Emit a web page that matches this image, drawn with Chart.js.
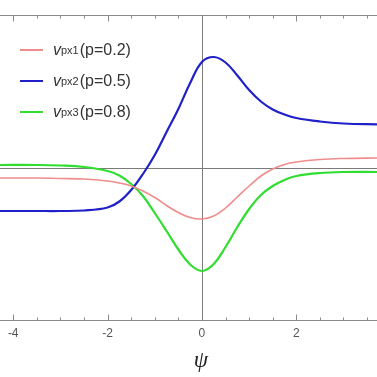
<!DOCTYPE html>
<html>
<head>
<meta charset="utf-8">
<script src="https://cdn.jsdelivr.net/npm/chart.js@4/dist/chart.umd.min.js"></script>
<style>
html, body { margin: 0; padding: 0; background: #fff; }
#wrap { position: relative; width: 377px; height: 377px; }
#legend { position: absolute; left: 20px; top: 34px; font-family: "Liberation Sans", Arial, sans-serif; font-size: 16px; color: #333; }
.item { height: 31px; display: flex; align-items: center; white-space: nowrap; }
.sw { width: 23px; height: 2px; margin-right: 10px; }
.item i { font-size: 16px; }
.item sub { font-size: 11px; vertical-align: -3px; margin-right: 1px; }
#xlabel { position: absolute; left: 190px; top: 347px; width: 22px; text-align: center; font-family: "Liberation Serif", "DejaVu Serif", serif; font-style: italic; font-size: 23px; color: #222; }
</style>
</head>
<body>
<div id="wrap">
  <canvas id="line-chart" width="377" height="377"></canvas>
  <div id="legend"></div>
  <div id="xlabel">ψ</div>
</div>
<script>
// psi values shared by all three curves
var psi = [-4.3, -3.5, -3, -2.5, -2, -1.75, -1.5, -1.25, -1, -0.75, -0.5, -0.25, 0, 0.25, 0.5, 0.75, 1, 1.25, 1.5, 1.75, 2, 2.5, 3, 3.75];

var v_px1 = [-0.2, -0.2, -0.21, -0.22, -0.26, -0.3, -0.36, -0.46, -0.59, -0.75, -0.89, -0.99, -1.02, -0.96, -0.8, -0.58, -0.36, -0.16, -0.02, 0.07, 0.12, 0.17, 0.19, 0.2];
var v_px2 = [-0.86, -0.86, -0.86, -0.85, -0.79, -0.67, -0.44, -0.12, 0.26, 0.72, 1.18, 1.7, 2.12, 2.22, 2.11, 1.85, 1.56, 1.33, 1.17, 1.07, 1.0, 0.93, 0.89, 0.87];
var v_px3 = [0.06, 0.06, 0.05, 0.02, -0.06, -0.15, -0.32, -0.56, -0.9, -1.26, -1.63, -1.93, -2.06, -1.92, -1.58, -1.18, -0.82, -0.54, -0.36, -0.24, -0.16, -0.1, -0.08, -0.08];

var subs = ['px1', 'px2', 'px3'];
var pvals = ['0.2', '0.5', '0.8'];
var colors = ['#f08c8c', '#2020c8', '#30dd30'];
var widths = [1.6, 2.2, 2.2];

var xTicks = [-4, -2, 0, 2];
var xMinorTicks = [-4, -3.5, -3, -2.5, -2, -1.5, -1, -0.5, 0, 0.5, 1, 1.5, 2, 2.5, 3, 3.5];

function pts(ys){
    var out = [];
    for(var i = 0; i < psi.length; i++){
        out.push({x: psi[i], y: ys[i]});
    }
    return out;
}

// legend with subscripts, as html
var legendHtml = '';
for(var i = 0; i < subs.length; i++){
    legendHtml += '<div class="item"><span class="sw" style="background:' + colors[i] + '"></span>' +
        '<i>v</i><sub>' + subs[i] + '</sub>(p=' + pvals[i] + ')</div>';
}
document.getElementById('legend').innerHTML = legendHtml;

// frame lines, inside ticks, and the axes through the origin
var frameAxes = {
    id: 'frameAxes',
    beforeDatasetsDraw(chart){
        var ctx = chart.ctx, a = chart.chartArea;
        var xs = chart.scales.x, ys = chart.scales.y;
        ctx.save();
        ctx.lineWidth = 1;
        ctx.strokeStyle = '#8a8a8a';
        var top = a.top + 0.5, bot = a.bottom - 0.5;
        ctx.beginPath();
        ctx.moveTo(a.left, top); ctx.lineTo(a.right, top);
        ctx.moveTo(a.left, bot); ctx.lineTo(a.right, bot);
        xMinorTicks.forEach(function(v){
            var px = Math.round(xs.getPixelForValue(v)) + 0.5;
            var len = xTicks.indexOf(v) >= 0 ? 6 : 3;
            ctx.moveTo(px, top); ctx.lineTo(px, top + len);
            ctx.moveTo(px, bot); ctx.lineTo(px, bot - len);
        });
        ctx.stroke();
        ctx.strokeStyle = '#7a7a7a';
        var x0 = Math.round(xs.getPixelForValue(0)) + 0.5;
        var y0 = Math.round(ys.getPixelForValue(0)) + 0.5;
        ctx.beginPath();
        ctx.moveTo(a.left, y0); ctx.lineTo(a.right, y0);
        ctx.moveTo(x0, a.top); ctx.lineTo(x0, a.bottom);
        ctx.stroke();
        ctx.restore();
    }
};

var datasets = [v_px1, v_px2, v_px3].map(function(ys, i){
    return {
        label: 'v_' + subs[i] + '(p=' + pvals[i] + ')',
        data: pts(ys),
        borderColor: colors[i],
        borderWidth: widths[i],
        pointRadius: 0,
        fill: false,
        tension: 0.4
    };
});

new Chart(document.getElementById('line-chart'), {
    type: 'line',
    data: { datasets: datasets },
    plugins: [frameAxes],
    options: {
        responsive: false,
        animation: false,
        devicePixelRatio: 1,
        layout: { padding: { top: 15, left: 0, right: 0, bottom: 0 } },
        plugins: {
            legend: { display: false },
            tooltip: { enabled: false }
        },
        scales: {
            x: {
                type: 'linear',
                min: -4.28,
                max: 3.71,
                afterBuildTicks: function(s){ s.ticks = xTicks.map(function(v){ return {value: v}; }); },
                afterFit: function(s){ s.height = 56; s.paddingLeft = 0; s.paddingRight = 0; },
                grid: { display: false, drawTicks: false },
                border: { display: false },
                ticks: {
                    color: '#555',
                    padding: 5,
                    font: { family: '"Liberation Sans", Arial, sans-serif', size: 12 },
                    callback: function(v){ return String(v); }
                }
            },
            y: {
                display: false,
                min: -3.06,
                max: 3.06
            }
        }
    }
});
</script>
</body>
</html>
